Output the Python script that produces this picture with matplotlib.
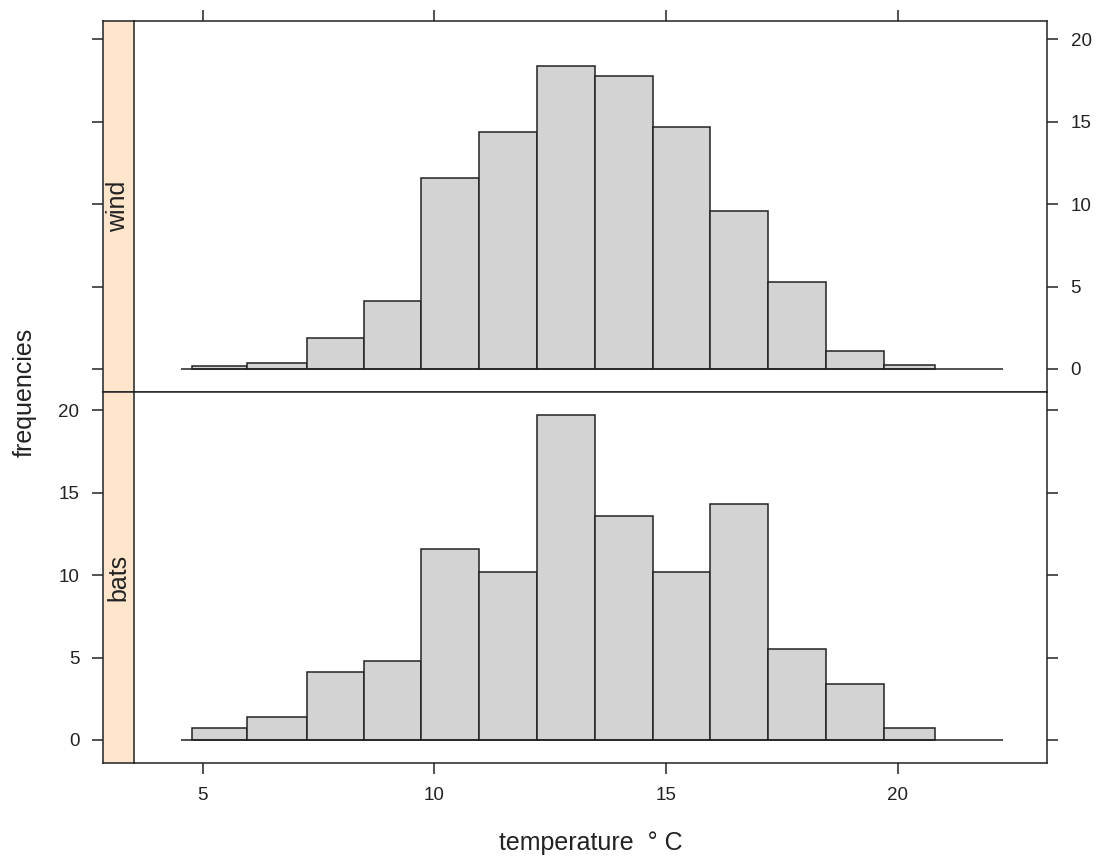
import matplotlib
matplotlib.use("Agg")
import matplotlib.pyplot as plt
import numpy as np

plt.rcParams['font.family'] = ['Liberation Sans', 'DejaVu Sans']

# ---- data ----
bin_edges = [4.77, 5.96, 7.25, 8.48, 9.71, 10.96, 12.22, 13.47, 14.72,
             15.95, 17.20, 18.45, 19.70, 20.80]
wind_freq = [0.2, 0.35, 1.9, 4.1, 11.6, 14.4, 18.4, 17.8, 14.7, 9.6, 5.3, 1.1, 0.25]
bats_freq = [0.7, 1.4, 4.1, 4.8, 11.6, 10.2, 19.7, 13.6, 10.2, 14.3, 5.5, 3.4, 0.7]
panel_names = ["wind", "bats"]
x_ticks = [5, 10, 15, 20]
y_ticks = [0, 5, 10, 15, 20]
xlabel = "temperature  \u00b0 C"
ylabel = "frequencies"

# ---- layout ----
W, H = 1110, 859
fig = plt.figure(figsize=(W / 100, H / 100), dpi=100)

px_left_strip, px_left, px_right = 103, 134, 1047
px_top, px_mid, px_bot = 21, 392, 763
xlim = (3.52, 23.22)
ylim = (-1.40, 21.12)
base_x = (4.53, 22.27)

strip_col = "#FFE5CC"
bar_col = "#D3D3D3"
line_col = "#222222"
tick_len = 8
fs_tick = 13.5
fs_label = 18
fs_strip = 18
tick_pad = 9


def fx(p):
    return p / W


def fy(p):
    return 1 - p / H


panels = [(wind_freq, px_top, px_mid, panel_names[0]),
          (bats_freq, px_mid, px_bot, panel_names[1])]
widths = np.diff(bin_edges)

for i, (vals, ptop, pbot, name) in enumerate(panels):
    ax = fig.add_axes([fx(px_left), fy(pbot), fx(px_right - px_left), (pbot - ptop) / H])
    ax.bar(bin_edges[:-1], vals, width=widths, align='edge', color=bar_col,
           edgecolor=line_col, linewidth=1.1, zorder=2)
    ax.hlines(0, base_x[0], base_x[1], color=line_col, linewidth=1.1, zorder=3)
    ax.set_xlim(*xlim)
    ax.set_ylim(*ylim)
    for s in ax.spines.values():
        s.set_linewidth(1.1)
        s.set_color(line_col)
    ax.spines['left'].set_visible(False)
    ax.set_xticks(x_ticks)
    ax.set_yticks(y_ticks)
    ax.tick_params(axis='both', direction='out', length=tick_len, width=1.1,
                   labelsize=fs_tick, color=line_col, labelcolor='#222222', pad=tick_pad)
    if i == 0:
        ax.tick_params(axis='x', bottom=False, labelbottom=False, top=True, labeltop=False)
        ax.tick_params(axis='y', left=False, labelleft=False, right=True, labelright=True)
    else:
        ax.tick_params(axis='x', bottom=True, labelbottom=True, top=False, labeltop=False)
        ax.tick_params(axis='y', left=False, labelleft=False, right=True, labelright=False)

    # strip on the left
    sax = fig.add_axes([fx(px_left_strip), fy(pbot), fx(px_left - px_left_strip), (pbot - ptop) / H])
    sax.set_facecolor(strip_col)
    sax.set_ylim(*ylim)
    sax.set_xlim(0, 1)
    sax.set_xticks([])
    sax.set_yticks(y_ticks)
    for s in sax.spines.values():
        s.set_linewidth(1.1)
        s.set_color(line_col)
    sax.tick_params(axis='y', direction='out', length=tick_len, width=1.1,
                    labelsize=fs_tick, color=line_col, labelcolor='#222222',
                    pad=tick_pad, left=True, labelleft=(i == 1))
    sax.text(0.5, 0.5, name, rotation=90, ha='center', va='center',
             transform=sax.transAxes, fontsize=fs_strip, color='#222222')

fig.text(fx((px_left + px_right) / 2), fy(843), xlabel, ha='center', va='center',
         fontsize=fs_label, color='#222222')
fig.text(fx(25), fy(392), ylabel, ha='center', va='center', rotation=90,
         fontsize=fs_label, color='#222222')

fig.savefig("out.png", dpi=100)
